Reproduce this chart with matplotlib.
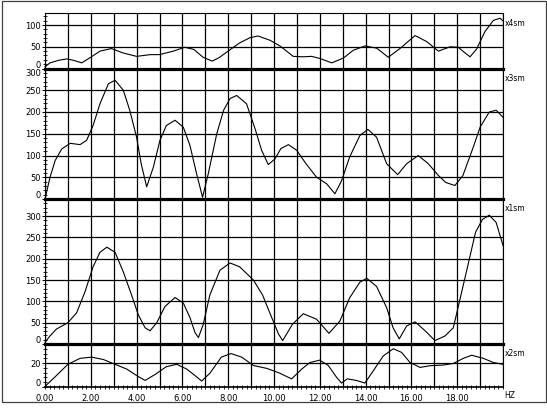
import numpy as np
import matplotlib.pyplot as plt
from matplotlib.ticker import MultipleLocator, FuncFormatter
from matplotlib.patches import Rectangle
from matplotlib.transforms import offset_copy

# ---- datos (frecuencia en Hz, amplitud) ----
hz_4sm = [0, 0.22, 0.6, 0.95, 1.24, 1.6, 1.97, 2.4, 2.9, 3.4, 4.0, 4.6, 5.0, 5.6,
          6.1, 6.5, 6.9, 7.3, 7.6, 8.1, 8.5, 8.95, 9.3, 9.83, 10.26, 10.84, 11.28,
          11.64, 12.01, 12.52, 13.03, 13.46, 13.97, 14.48, 14.99, 15.5, 16.16,
          16.67, 17.18, 17.69, 18.05, 18.34, 18.56, 18.85, 19.21, 19.58, 19.87, 20.0]
amp_4sm = [4, 13, 19, 22, 19, 13, 25, 40, 46, 36, 28, 32, 32, 40,
           49, 44, 26, 17, 25, 44, 59, 71, 75, 65, 52, 28, 27,
           28, 23, 13, 24, 42, 52, 47, 26, 46, 76,
           62, 40, 50, 49, 36, 27, 45, 85, 111, 116, 110]

hz_3sm = [0, 0.22, 0.44, 0.73, 1.1, 1.53, 1.82, 2.1, 2.4, 2.77, 3.06, 3.42, 3.7,
          4.0, 4.2, 4.44, 4.73, 5.02, 5.3, 5.68, 6.04, 6.33, 6.62, 6.88, 7.13, 7.5,
          7.8, 8.08, 8.37, 8.8, 9.17, 9.46, 9.75, 10.04, 10.3, 10.63, 10.99, 11.4,
          11.86, 12.3, 12.66, 12.95, 13.3, 13.75, 14.1, 14.48, 14.92, 15.4, 15.79,
          16.3, 16.74, 17.18, 17.5, 17.9, 18.25, 18.7, 19.0, 19.4, 19.7, 20.0]
amp_3sm = [0, 50, 88, 115, 128, 125, 135, 169, 219, 265, 273, 250, 204,
           142, 81, 28, 73, 135, 169, 181, 165, 123, 58, 4, 58, 150,
           204, 231, 238, 219, 162, 112, 79, 92, 116, 125, 112, 81,
           50, 35, 12, 42, 96, 146, 160, 142, 81, 56, 81,
           100, 81, 54, 38, 31, 54, 119, 165, 200, 204, 188]

hz_1sm = [0, 0.22, 0.5, 1.0, 1.38, 1.75, 2.1, 2.4, 2.7, 3.06, 3.42, 3.78, 4.07,
          4.37, 4.59, 4.88, 5.24, 5.68, 6.04, 6.33, 6.55, 6.7, 6.91, 7.2, 7.64,
          8.08, 8.5, 9.1, 9.5, 9.9, 10.2, 10.38, 10.8, 11.28, 11.86, 12.4, 12.88,
          13.3, 13.75, 14.05, 14.48, 14.92, 15.2, 15.47, 15.79, 16.16, 16.6, 17.03,
          17.47, 17.83, 18.1, 18.5, 18.8, 19.1, 19.4, 19.7, 20.0]
amp_1sm = [4, 19, 35, 50, 73, 123, 181, 215, 227, 215, 169, 115, 69,
           38, 31, 50, 88, 109, 96, 62, 27, 15, 46, 115, 173,
           190, 181, 150, 115, 62, 23, 8, 46, 71, 58, 25, 54,
           108, 145, 154, 135, 85, 38, 12, 42, 52, 31, 8,
           19, 38, 100, 192, 262, 292, 302, 285, 231]

hz_2sm = [0, 0.5, 1.0, 1.53, 2.04, 2.55, 3.06, 3.57, 4.0, 4.37, 4.8, 5.3, 5.75,
          6.19, 6.55, 6.84, 7.2, 7.7, 8.12, 8.59, 9.1, 9.68, 10.2, 10.77, 11.21,
          11.57, 12.0, 12.37, 12.73, 12.95, 13.2, 13.6, 13.97, 14.34, 14.77, 15.21,
          15.57, 15.94, 16.38, 16.81, 17.4, 17.83, 18.27, 18.63, 19.14, 19.58, 20.0]
amp_2sm = [0.5, 9.6, 19, 24, 25, 23, 19, 15, 9.6, 5.5, 10.4, 17, 19,
           15, 9.6, 5, 11.5, 25, 28, 25, 18, 15.6, 12, 6.8, 15,
           20.5, 22.5, 18, 8.2, 3.3, 6.8, 5.5, 3.3, 13.7, 26, 32,
           29, 20.5, 16.4, 17.8, 18.4, 19.7, 24, 26.6, 24, 20.5, 19]

# marcas del eje y de cada panel
yt_4sm = [0, 50, 100]
yt_3sm = [0, 50, 100, 150, 200, 250, 300]
yt_1sm = [0, 50, 100, 150, 200, 250, 300]
yt_2sm = [0, 20]

# ---- paneles: datos, etiqueta, marcas, ylim, paso menor, borde sup/inf en px ----
paneles = [
    (hz_4sm, amp_4sm, "x4sm", yt_4sm, 128, 10, 14, 69.5),
    (hz_3sm, amp_3sm, "x3sm", yt_3sm, 300, 10, 69.5, 200),
    (hz_1sm, amp_1sm, "x1sm", yt_1sm, 340, 10, 200, 345),
    (hz_2sm, amp_2sm, "x2sm", yt_2sm, 36, 4, 345, 388),
]

W, H = 547, 410
plt.rcParams['font.family'] = ['DejaVu Sans']
plt.rcParams['font.size'] = 6

fig = plt.figure(figsize=(W / 100, H / 100), dpi=100)
fig.patch.set_facecolor('white')

x0, x1 = 45, 503
for i, (hz, amp, etiqueta, yt, ytop, menor, top, bot) in enumerate(paneles):
    ax = fig.add_axes([x0 / W, 1 - bot / H, (x1 - x0) / W, (bot - top) / H])
    ax.patch.set_alpha(0)
    ax.plot(hz, amp, color='black', lw=0.8, clip_on=False, zorder=5)
    ax.set_xlim(0, 20)
    ax.set_ylim(0, ytop)
    ax.set_yticks(yt)
    ax.yaxis.set_minor_locator(MultipleLocator(menor))
    ax.xaxis.set_major_locator(MultipleLocator(1))
    ax.xaxis.set_minor_locator(MultipleLocator(0.2))
    ax.grid(True, which='major', color='black', lw=0.9)
    ax.set_axisbelow(True)
    ax.tick_params(axis='y', which='major', direction='inout', length=5, width=0.7,
                   labelleft=False)
    ax.tick_params(axis='y', which='minor', direction='inout', length=3, width=0.6)
    # etiquetas del eje y: las de los extremos se meten dentro del panel
    trans = offset_copy(ax.get_yaxis_transform(), fig=fig, x=-4, y=0, units='dots')
    for v in yt:
        va = 'center'
        if v == 0:
            va = 'bottom'
        elif v >= ytop - 1:
            va = 'top'
        ax.text(0, v, str(v), transform=trans, ha='right', va=va, fontsize=6)
    for s in ('left', 'right'):
        ax.spines[s].set_linewidth(0.8)
    ax.spines['bottom'].set_linewidth(2.3)
    ax.spines['bottom'].set_zorder(6)
    if i == 0:
        ax.spines['top'].set_linewidth(0.8)
    else:
        ax.spines['top'].set_visible(False)
    if i < len(paneles) - 1:
        ax.tick_params(axis='x', which='both', length=0, labelbottom=False)
    else:
        ax.spines['bottom'].set_linewidth(1.2)
        ax.tick_params(axis='x', which='both', direction='inout', length=3,
                       width=0.6, pad=3, labelsize=6)
        ax.xaxis.set_major_formatter(FuncFormatter(
            lambda v, p: "%.2f" % v if (round(v) % 2 == 0 and v < 19.5) else ""))
    fig.text((x1 + 2) / W, 1 - (top + 9) / H, etiqueta, fontsize=5.5,
             ha='left', va='center')

fig.text((x1 + 1) / W, 1 - 396 / H, "HZ", fontsize=5.5, ha='left', va='center')

# marco exterior
fig.patches.append(Rectangle((1.5 / W, 1 - 403 / H), 544 / W, 401.5 / H,
                             transform=fig.transFigure, fill=False,
                             edgecolor='#404040', lw=0.9))

plt.savefig('out.png', dpi=100)
